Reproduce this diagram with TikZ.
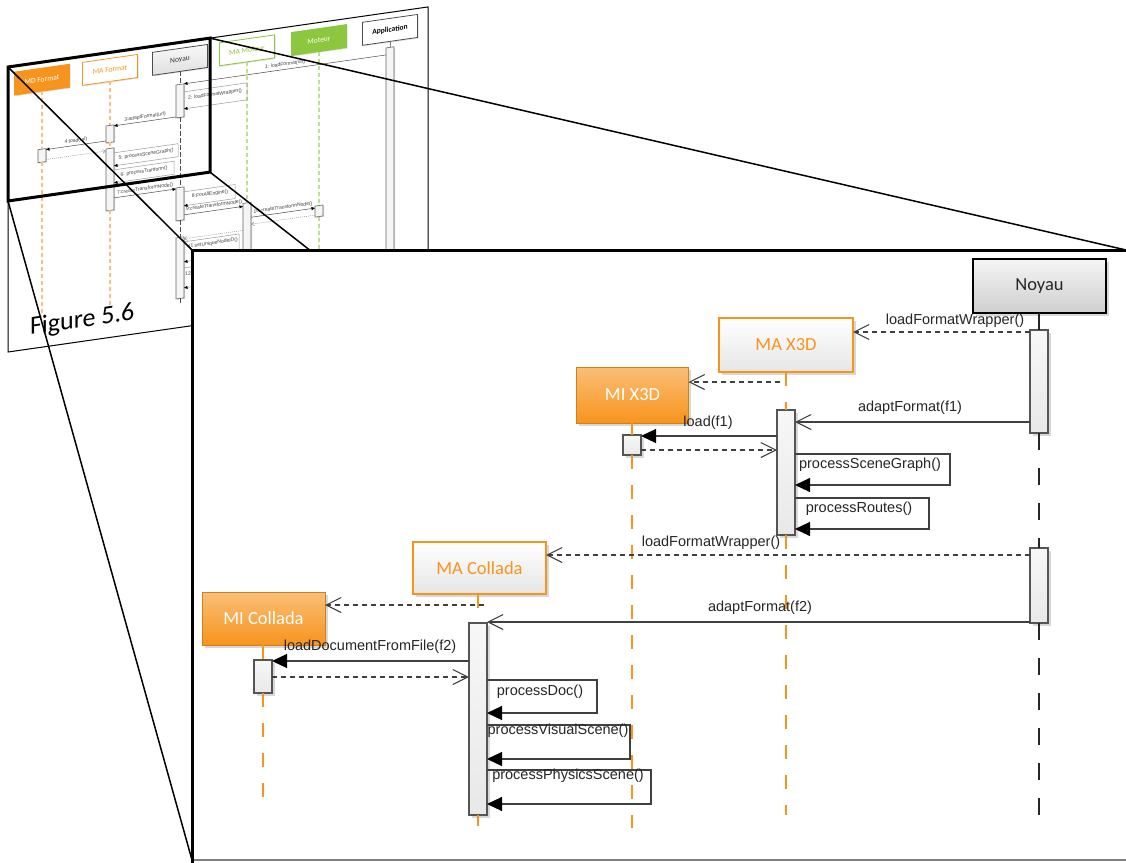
\documentclass[tikz,border=0pt]{standalone}
\usepackage{fontspec}
\newfontfamily\calfont{Carlito}
\newfontfamily\arialfont{Liberation Sans}
\usetikzlibrary{arrows.meta,shadows,calc}
\definecolor{oran}{RGB}{247,148,29}
\definecolor{loran}{RGB}{250,190,130}
\definecolor{grn}{RGB}{141,198,63}
\definecolor{lgrn}{RGB}{190,224,140}
\definecolor{msgc}{RGB}{64,64,64}
\definecolor{barc}{RGB}{85,85,85}
\tikzset{
 shad/.style={drop shadow={shadow xshift=2.5pt,shadow yshift=-2.5pt,opacity=0.3}},
 tshad/.style={drop shadow={shadow xshift=1pt,shadow yshift=-1pt,opacity=0.25}},
 bar/.style={draw=barc,line width=1.2pt,top color=gray!6,bottom color=gray!18,minimum width=18pt,shad},
 headfont/.style={font=\calfont\fontsize{18.5}{22}\selectfont},
 noyauhead/.style={headfont,draw=black,line width=2pt,top color=gray!8,bottom color=gray!38,text=black!85,minimum width=133pt,minimum height=54pt,shad},
 mahead/.style={headfont,draw=oran,line width=1.8pt,top color=white,bottom color=gray!20,text=oran,shad},
 mihead/.style={headfont,draw=oran!85!black,line width=1pt,top color=oran!60!white,bottom color=oran,text=white,shad},
 olife/.style={draw=oran,line width=2pt,dash pattern=on 14pt off 16pt},
 nlife/.style={draw=black!85,line width=2pt},
 ndash/.style={nlife,dash pattern=on 17pt off 18pt},
 call/.style={draw=msgc,line width=1.1pt,-{Straight Barb[length=15pt,width=15pt]}},
 ret/.style={call,dash pattern=on 5pt off 4pt},
 sync/.style={draw=msgc,line width=1.1pt,-{Triangle[length=15pt,width=14pt,color=black]}},
 msglab/.style={font=\arialfont\fontsize{14.5}{17}\selectfont,text=black!85},
 thead/.style={minimum width=55pt,minimum height=23pt,font=\calfont\fontsize{7.5}{9}\selectfont,line width=0.8pt,tshad},
 tbar/.style={draw=black!60,line width=0.6pt,fill=gray!8,minimum width=8pt,tshad},
 tolife/.style={draw=loran,line width=1.2pt,dash pattern=on 4pt off 3pt},
 tglife/.style={draw=lgrn,line width=1.2pt,dash pattern=on 4pt off 3pt},
 tnlife/.style={draw=black!70,line width=0.6pt,dash pattern=on 5pt off 2pt},
 tsync/.style={draw=black!70,line width=0.5pt,-{Triangle[length=3.5pt,width=3pt,color=black]}},
 tloop/.style={draw=black!40,line width=0.5pt,-{Triangle[length=3.5pt,width=3pt,color=black]}},
 tret/.style={draw=black!45,line width=0.45pt,dash pattern=on 1pt off 1pt,-{Straight Barb[length=3pt,width=4pt]}},
 tlab/.style={font=\arialfont\fontsize{5}{6}\selectfont,text=black!75},
}
\begin{document}
\begin{tikzpicture}[x=1pt,y=-1pt,every node/.style={inner sep=0pt,outer sep=0pt}]
\useasboundingbox (0,0) rectangle (1126,862);

% ---------------- thumbnail page (slanted) ----------------
\begin{scope}[shift={(8,67)},yslant=0.143,transform shape]
 \draw[fill=white,line width=1pt] (0,0) rectangle (420,285);
 % heads
 \node[thead,fill=oran,draw=oran,text=white] (tmd) at (34,17.5) {MD Format};
 \node[thead,fill=white,draw=oran,text=oran] (tma) at (102,17.5) {MA Format};
 \node[thead,top color=gray!5,bottom color=gray!25,draw=black!70,text=black!80] (tno) at (172,17.5) {Noyau};
 \node[thead,fill=white,draw=grn,text=grn] (tmam) at (239,17.5) {MA Moteur};
 \node[thead,fill=grn,draw=grn,text=white] (tmot) at (311,17.5) {Moteur};
 \node[thead,fill=white,draw=black!70,text=black,font=\calfont\bfseries\fontsize{7.5}{9}\selectfont] (tapp) at (382,17.5) {Application};
 % bars
 \node[tbar,minimum height=13pt] (tmdb) at (34,93.5) {};
 \node[tbar,minimum height=17pt] (tmab1) at (102,81.5) {};
 \node[tbar,minimum height=62pt] (tmab2) at (102,127) {};
 \node[tbar,minimum height=33pt] (tnb1) at (172,58.5) {};
 \node[tbar,minimum height=33pt] (tnb2) at (172,161.5) {};
 \node[tbar,minimum height=61pt] (tnb3) at (172,225.5) {};
 \node[tbar,minimum height=90pt] (tmamb) at (239,215) {};
 \node[tbar,minimum height=11pt] (tmotb) at (311,188.5) {};
 \node[tbar,minimum height=230pt] (tappb) at (382,150) {};
 % lifelines
 \coordinate (tmdend) at (34,251);
 \coordinate (tmaend) at (102,253);
 \coordinate (tnoend) at (172,262);
 \coordinate (tmotend) at (311,262);
 \draw[tolife] (tmd.south) -- (tmdb.north);
 \draw[tolife] (tmdb.south) -- (tmdend);
 \draw[tolife] (tma.south) -- (tmab1.north);
 \draw[tolife] (tmab1.south) -- (tmab2.north);
 \draw[tolife] (tmab2.south) -- (tmaend);
 \draw[tnlife] (tno.south) -- (tnb1.north);
 \draw[tnlife] (tnb1.south) -- (tnb2.north);
 \draw[tnlife] (tnb2.south) -- (tnb3.north);
 \draw[tnlife] (tnb3.south) -- (tnoend);
 \draw[tglife] (tmam.south) -- (tmamb.north);
 \draw[tglife] (tmot.south) -- (tmotb.north);
 \draw[tglife] (tmotb.south) -- (tmotend);
 \draw[draw=black!50,line width=0.6pt] (tapp.south) -- (tappb.north);
 % messages
 \coordinate (t1s) at (378,42);  \coordinate (t1e) at (176,42);
 \draw[tsync] (t1s) -- (t1e);
 \node[tlab] (tl1) at (277,37) {1: loadFormat(url)};
 \coordinate (t2s) at (176,50);  \coordinate (t2e) at (176,67);
 \draw[tloop] (t2s) -- (239,50) -- (239,67) -- (t2e);
 \node[tlab] (tl2) at (207,57) {2: loadFormatWrapper()};
 \coordinate (t3s) at (168,74);  \coordinate (t3e) at (106,74);
 \draw[tsync] (t3s) -- (t3e);
 \node[tlab] (tl3) at (137,69.5) {3:adaptFormat(url)};
 \coordinate (t4s) at (98,88);  \coordinate (t4e) at (38,88);
 \draw[tsync] (t4s) -- (t4e);
 \node[tlab] (tl4) at (68,83.5) {4:load(url)};
 \coordinate (t4rs) at (38,98);  \coordinate (t4re) at (98,98);
 \draw[tret] (t4rs) -- (t4re);
 \coordinate (t5s) at (106,101);  \coordinate (t5e) at (106,114);
 \draw[tloop] (t5s) -- (170,101) -- (170,114) -- (t5e);
 \node[tlab] (tl5) at (138,107) {5: processSceneGraph()};
 \coordinate (t6s) at (106,118);  \coordinate (t6e) at (106,131);
 \draw[tloop] (t6s) -- (166,118) -- (166,131) -- (t6e);
 \node[tlab] (tl6) at (136,124) {6: processTranform()};
 \coordinate (t7s) at (106,146);  \coordinate (t7e) at (168,146);
 \draw[tsync] (t7s) -- (t7e);
 \node[tlab] (tl7) at (137,141.5) {7:createTransformNode()};
 \coordinate (t8s) at (176,150);  \coordinate (t8e) at (176,164);
 \draw[tloop] (t8s) -- (227,150) -- (227,164) -- (t8e);
 \node[tlab] (tl8) at (202,156) {8:ForAllEngine()};
 \coordinate (t9s) at (176,173);  \coordinate (t9e) at (235,173);
 \draw[tsync] (t9s) -- (t9e);
 \node[tlab] (tl9) at (206,168) {9:createTransformNode()};
 \coordinate (t10s) at (243,185);  \coordinate (t10e) at (307,185);
 \draw[tsync] (t10s) -- (t10e);
 \node[tlab] (tl10) at (275,180) {10:createTransformNode()};
 \coordinate (t10rs) at (307,192);  \coordinate (t10re) at (243,192);
 \draw[tret] (t10rs) -- (t10re);
 \coordinate (t9rs) at (235,197);  \coordinate (t9re) at (176,197);
 \draw[tret] (t9rs) -- (t9re);
 \coordinate (t11s) at (176,200);  \coordinate (t11e) at (176,220);
 \draw[tloop] (t11s) -- (231,200) -- (231,220) -- (t11e);
 \node[tlab] (tl11) at (205,205.5) {11:setUniqueNodeID()};
 \coordinate (t12s) at (176,226);  \coordinate (t12e) at (176,246);
 \draw[tloop] (t12s) -- (231,226) -- (231,246) -- (t12e);
 \node[tlab] (tl12) at (180,232) {12};
 % figure label
 \node[anchor=base west,font=\calfont\fontsize{26}{30}\selectfont] (fig) at (22,271) {Figure 5.6};
 % zoom rectangle
 \coordinate (rTL) at (0,0);
 \coordinate (rTR) at (202,0);
 \coordinate (rBR) at (202,134);
 \coordinate (rBL) at (0,134);
 \draw[line width=3pt,line join=miter] (rTL) -- (rTR) -- (rBR) -- (rBL) -- cycle;
\end{scope}

% ---------------- zoom lines ----------------
\coordinate (fTL) at (192,250);
\coordinate (fTR) at (1126,250);
\coordinate (fBL) at (192,860);
\coordinate (fBR) at (1090,860);
\draw[line width=1.5pt] (rTL) -- (fTL);
\draw[line width=1.5pt] (rTR) -- (fTR);
\draw[line width=1.5pt] (rBL) -- (fBL);
\draw[line width=1.5pt] (rBR) -- (fBR);

% ---------------- main frame ----------------
\fill[white] (fTL) rectangle (1140,880);
\draw[gray,line width=1.5pt] (fBL) -- (1140,860);
\draw[line width=3pt] (1140,250) -- (fTL) -- (192,880);

% ---------------- main diagram ----------------
% heads and bars
\node[noyauhead] (noy) at (1039.5,286) {Noyau};
\node[bar,minimum height=103pt] (nb1) at (1039,381.5) {};
\node[bar,minimum height=75pt] (nb2) at (1039,585.5) {};

\node[mahead,minimum width=134pt,minimum height=54pt] (max) at (786,345) {MA X3D};
\node[bar,minimum height=125pt] (mxb) at (786,472.5) {};

\node[mihead,minimum width=112pt,minimum height=56pt] (mix) at (632.5,395) {MI X3D};
\node[bar,minimum height=20pt] (mixb) at (632,445) {};

\node[mahead,minimum width=133pt,minimum height=52pt] (mac) at (479.5,568) {MA Collada};
\node[bar,minimum height=192pt] (macb) at (478,719) {};

\node[mihead,minimum width=123pt,minimum height=53pt] (mic) at (263.5,618.5) {MI Collada};
\node[bar,minimum height=33pt] (micb) at (263,676.5) {};

% lifelines
\coordinate (noyend) at (1039,827);
\coordinate (mxend) at (786,815);
\coordinate (mixend) at (632,828);
\coordinate (macend) at (478,826);
\coordinate (micend) at (263,805);
\draw[nlife] (noy.south -| nb1.north) -- (nb1.north);
\draw[ndash] (nb1.south) -- (nb2.north);
\draw[ndash] (nb2.south) -- (noyend);
\draw[olife] (max.south -| mxb.north) -- (mxb.north);
\draw[olife] (mxb.south) -- (mxend);
\draw[olife] (mix.south -| mixb.north) -- (mixb.north);
\draw[olife] (mixb.south) -- (mixend);
\draw[olife] (mac.south -| macb.north) -- (macb.north);
\draw[olife] (macb.south) -- (macend);
\draw[olife] (mic.south -| micb.north) -- (micb.north);
\draw[olife] (micb.south) -- (micend);

% messages X3D
\draw[ret] (nb1.west |- 0,332) -- (max.east |- 0,332);
\node[msglab] (l1) at (955,321) {loadFormatWrapper()};
\draw[ret] ($(max.south |- 0,382)+(-6,0)$) -- (mix.east |- 0,382);
\draw[call] (nb1.west |- 0,422) -- (mxb.east |- 0,422);
\node[msglab] (l2) at (910,408) {adaptFormat(f1)};
\draw[sync] (mxb.west |- 0,436) -- (mixb.east |- 0,436);
\node[msglab] (l3) at (708,423) {load(f1)};
\draw[ret] (mixb.east |- 0,450) -- (mxb.west |- 0,450);
\draw[sync] (mxb.east |- 0,454) -- ++(155,0) |- (mxb.east |- 0,485);
\node[msglab] (l4) at (870,465) {processSceneGraph()};
\draw[sync] (mxb.east |- 0,498) -- ++(134,0) |- (mxb.east |- 0,529);
\node[msglab] (l5) at (859,509) {processRoutes()};

% messages Collada
\draw[ret] (nb2.west |- 0,555) -- (mac.east |- 0,555);
\node[msglab] (l6) at (711,543) {loadFormatWrapper()};
\draw[ret] ($(mac.south |- 0,605)+(4,0)$) -- (mic.east |- 0,605);
\draw[call] (nb2.west |- 0,622) -- (macb.east |- 0,622);
\node[msglab] (l7) at (760,608) {adaptFormat(f2)};
\draw[sync] (macb.west |- 0,661) -- (micb.east |- 0,661);
\node[msglab] (l8) at (370,647) {loadDocumentFromFile(f2)};
\draw[ret] (micb.east |- 0,677) -- (macb.west |- 0,677);
\draw[sync] (macb.east |- 0,680) -- ++(110,0) |- (macb.east |- 0,713);
\node[msglab] (l9) at (540,692) {processDoc()};
\draw[sync] (macb.east |- 0,725) -- ++(143,0) |- (macb.east |- 0,759);
\node[msglab] (l10) at (558,731) {processVisualScene()};
\draw[sync] (macb.east |- 0,770) -- ++(164,0) |- (macb.east |- 0,804);
\node[msglab] (l11) at (568,776) {processPhysicsScene()};
\end{tikzpicture}
\end{document}
